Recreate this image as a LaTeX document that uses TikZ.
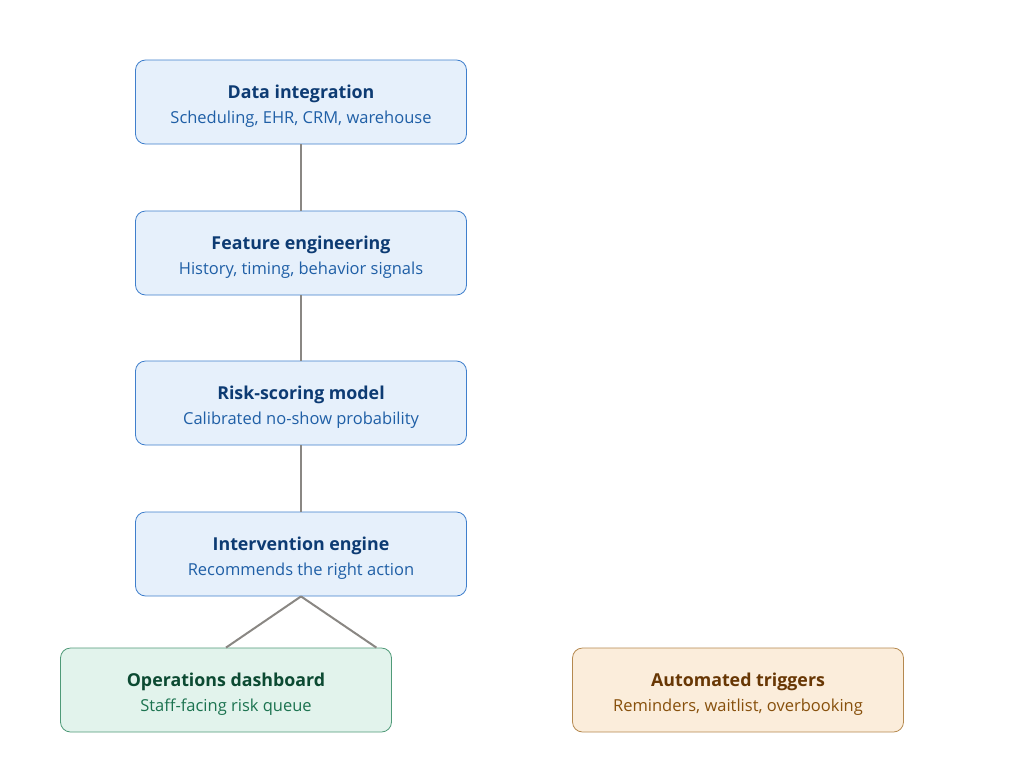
\documentclass[tikz,border=0pt]{standalone}
\usepackage{fontspec}
\setmainfont{Open Sans}
\usetikzlibrary{positioning}

\definecolor{bluefill}{HTML}{E6F0FB}
\definecolor{blueline}{HTML}{3F7FCC}
\definecolor{bluetitle}{HTML}{0D3B73}
\definecolor{bluesub}{HTML}{1F5FA6}
\definecolor{greenfill}{HTML}{E2F3EC}
\definecolor{greenline}{HTML}{4F9A78}
\definecolor{greentitle}{HTML}{0C4A32}
\definecolor{greensub}{HTML}{1C7350}
\definecolor{orangefill}{HTML}{FBEDDB}
\definecolor{orangeline}{HTML}{B5894F}
\definecolor{orangetitle}{HTML}{683704}
\definecolor{orangesub}{HTML}{87500C}
\definecolor{linkgray}{HTML}{8A8783}

\newcommand{\boxtext}[2]{{\fontsize{17.8}{22}\selectfont\bfseries\rule{0pt}{22pt}#1}\\[8pt]{\fontsize{16.5}{19}\selectfont #2}}

\begin{document}
\begin{tikzpicture}[x=1pt,y=-1pt,
    stage/.style={draw, rounded corners=10pt, line width=0.8pt, minimum width=331pt,
      minimum height=84pt, align=center, inner sep=0pt},
    bluebox/.style={stage, fill=bluefill, draw=blueline, text=bluetitle},
    greenbox/.style={stage, fill=greenfill, draw=greenline, text=greentitle},
    orangebox/.style={stage, fill=orangefill, draw=orangeline, text=orangetitle},
    link/.style={draw=linkgray, line width=2pt}]
  \useasboundingbox (0,0) rectangle (1024,768);

  % pipeline
  \node[bluebox] (data) at (301,102) {\boxtext{Data integration}{\color{bluesub}Scheduling, EHR, CRM, warehouse}};
  \node[bluebox] (feat) at (301,253) {\boxtext{Feature engineering}{\color{bluesub}History, timing, behavior signals}};
  \node[bluebox] (risk) at (301,403) {\boxtext{Risk-scoring model}{\color{bluesub}Calibrated no-show probability}};
  \node[bluebox] (interv) at (301,554) {\boxtext{Intervention engine}{\color{bluesub}Recommends the right action}};

  % outputs
  \node[greenbox] (ops) at (226,690) {\boxtext{Operations dashboard}{\color{greensub}Staff-facing risk queue}};
  \node[orangebox] (auto) at (738,690) {\boxtext{Automated triggers}{\color{orangesub}Reminders, waitlist, overbooking}};
  \coordinate (opsright) at ([xshift=-15.5pt]ops.north east);

  \draw[link] (data) -- (feat);
  \draw[link] (feat) -- (risk);
  \draw[link] (risk) -- (interv);
  \draw[link] (interv.south) -- (ops.north);
  \draw[link] (interv.south) -- (opsright);
\end{tikzpicture}
\end{document}
